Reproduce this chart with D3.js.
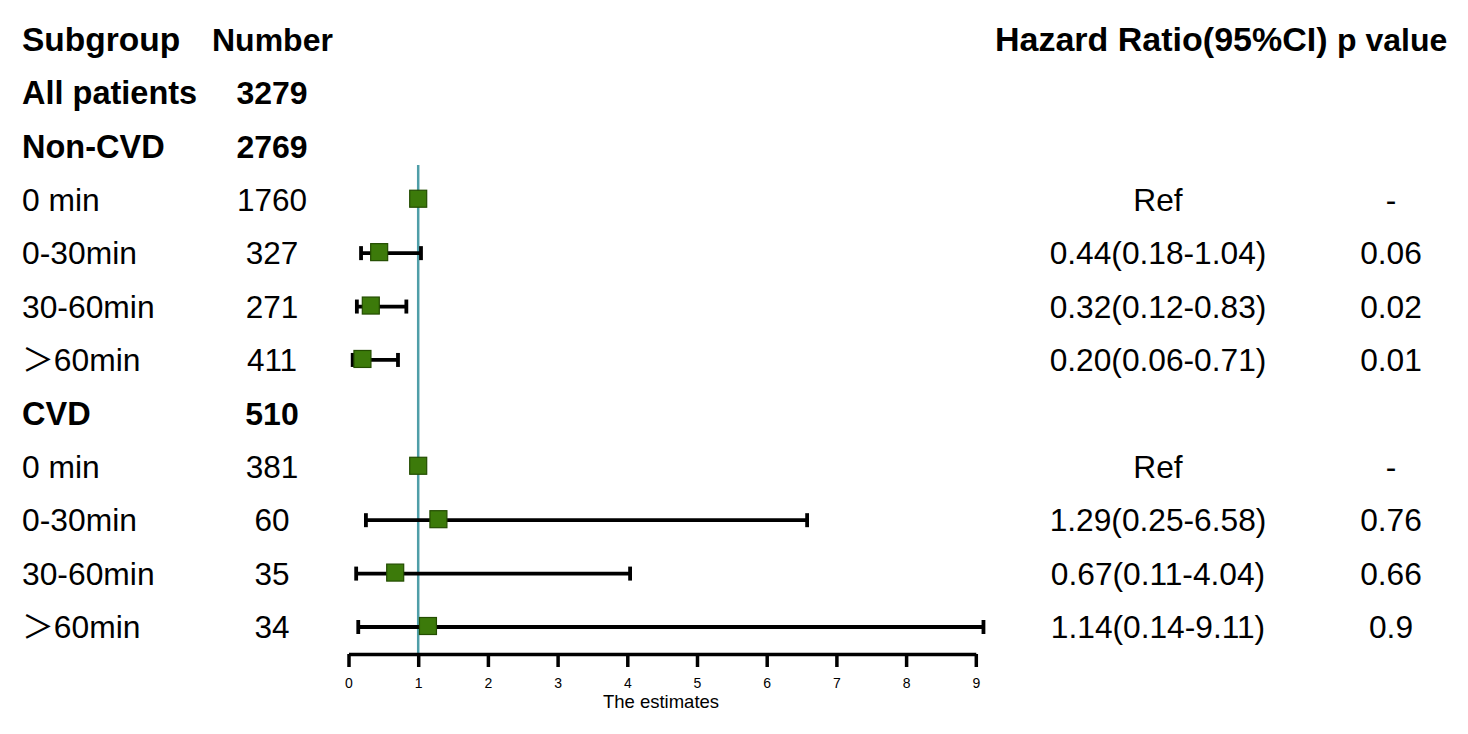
<!DOCTYPE html>
<html><head><meta charset="utf-8">
<script src="https://cdn.jsdelivr.net/npm/d3@7"></script>
<style>
html,body{margin:0;padding:0;background:#fff;}
svg{display:block;}
text{font-family:"Liberation Sans",Arial,"Noto Sans CJK SC",sans-serif;fill:#000;}
</style></head>
<body>
<svg id="chart" width="1468" height="734"></svg>
<script>
// ---- data ----
const headers = ["Subgroup", "Number", "Hazard Ratio(95%CI)", "p value"];
const subgroups = ["All patients","Non-CVD","0 min","0-30min","30-60min","＞60min","CVD","0 min","0-30min","30-60min","＞60min"];
const numbers = ["3279","2769","1760","327","271","411","510","381","60","35","34"];
const isBold = [true,true,false,false,false,false,true,false,false,false,false];
const hrValues = [null,null,1,0.44,0.32,0.20,null,1,1.29,0.67,1.14];
const ciLower = [null,null,null,0.18,0.12,0.06,null,null,0.25,0.11,0.14];
const ciUpper = [null,null,null,1.04,0.83,0.71,null,null,6.58,4.04,9.11];
const hrLabels = ["","","Ref","0.44(0.18-1.04)","0.32(0.12-0.83)","0.20(0.06-0.71)","","Ref","1.29(0.25-6.58)","0.67(0.11-4.04)","1.14(0.14-9.11)"];
const pLabels = ["","","-","0.06","0.02","0.01","","-","0.76","0.66","0.9"];
const xTicks = [0,1,2,3,4,5,6,7,8,9];
const axisTitle = "The estimates";
const refValue = 1;

// ---- layout ----
const svg = d3.select("#chart");
const x = d3.scaleLinear().domain([0, 9]).range([348.5, 975.8]);
const y = d3.scaleLinear().domain([0, 11]).range([39.5, 627]); // row 0 = header
const axisY = 656;

const colSub = 22, colNum = 272, colHR = 1158, colP = 1391;
const headerX = [22, 212, 995, 1337];
const headerSize = [33.5, 32, 34, 32];

// headers
svg.selectAll("text.hdr").data(headers).join("text").attr("class","hdr")
  .attr("x", (d, i) => headerX[i]).attr("y", y(0)).attr("dy","0.35em")
  .attr("font-size", (d, i) => headerSize[i]).attr("font-weight","bold").text(d => d);

const rows = subgroups.map((s, i) => ({
  sub: s, num: numbers[i], bold: isBold[i], hr: hrValues[i],
  lo: ciLower[i], hi: ciUpper[i], hrText: hrLabels[i], p: pLabels[i], row: i + 1
}));

const g = svg.append("g");
g.selectAll("text.sub").data(rows).join("text").attr("class","sub")
  .attr("x", colSub).attr("y", d => y(d.row)).attr("dy","0.35em")
  .attr("font-size", d => d.bold ? 32.5 : 31.8)
  .attr("font-weight", d => d.bold ? "bold" : "normal")
  .text(d => d.sub);
g.selectAll("text.num").data(rows).join("text").attr("class","num")
  .attr("x", colNum).attr("y", d => y(d.row)).attr("dy","0.35em")
  .attr("text-anchor","middle")
  .attr("font-size", d => d.bold ? 32 : 31.5)
  .attr("font-weight", d => d.bold ? "bold" : "normal")
  .text(d => d.num);
g.selectAll("text.hr").data(rows).join("text").attr("class","hr")
  .attr("x", colHR).attr("y", d => y(d.row)).attr("dy","0.35em")
  .attr("text-anchor","middle").attr("font-size", 31.7)
  .text(d => d.hrText);
g.selectAll("text.p").data(rows).join("text").attr("class","p")
  .attr("x", colP).attr("y", d => y(d.row)).attr("dy","0.35em")
  .attr("text-anchor","middle").attr("font-size", 31.7)
  .text(d => d.p);

// reference line
svg.append("line")
  .attr("x1", x(refValue)).attr("x2", x(refValue))
  .attr("y1", 165).attr("y2", axisY)
  .attr("stroke", "#4f9ea8").attr("stroke-width", 2.5);

// CI whiskers
const ci = rows.filter(d => d.lo != null);
const cg = svg.append("g").attr("stroke","#000").attr("stroke-width",3.8);
cg.selectAll("line.ci").data(ci).join("line")
  .attr("x1", d => x(d.lo)).attr("x2", d => x(d.hi))
  .attr("y1", d => y(d.row)).attr("y2", d => y(d.row));
cg.selectAll("line.capl").data(ci).join("line")
  .attr("x1", d => x(d.lo)).attr("x2", d => x(d.lo))
  .attr("y1", d => y(d.row) - 7).attr("y2", d => y(d.row) + 7);
cg.selectAll("line.capr").data(ci).join("line")
  .attr("x1", d => x(d.hi)).attr("x2", d => x(d.hi))
  .attr("y1", d => y(d.row) - 7).attr("y2", d => y(d.row) + 7);

// markers
const pts = rows.filter(d => d.hr != null);
const s = 17;
svg.selectAll("rect.pt").data(pts).join("rect")
  .attr("x", d => x(d.hr) - s/2).attr("y", d => y(d.row) - s/2 - 1)
  .attr("width", s).attr("height", s)
  .attr("fill", "#3c7a0a").attr("stroke", "#234d00").attr("stroke-width", 1.2);

// axis
const axis = d3.axisBottom(x).tickValues(xTicks).tickSize(13).tickSizeOuter(0).tickFormat(d3.format("d"));
const ag = svg.append("g").attr("transform", `translate(0,${axisY - 2})`).call(axis);
ag.select(".domain").attr("stroke","#000").attr("stroke-width",3.5);
ag.selectAll(".tick line").attr("stroke","#000").attr("stroke-width",3.5);
ag.selectAll(".tick text").attr("font-size",14).attr("font-family","Liberation Sans, Arial, sans-serif").attr("fill","#000").attr("dy","1.25em");
svg.append("text").attr("x", 661).attr("y", 708)
  .attr("text-anchor","middle").attr("font-size",18.5).text(axisTitle);
</script>
</body></html>
